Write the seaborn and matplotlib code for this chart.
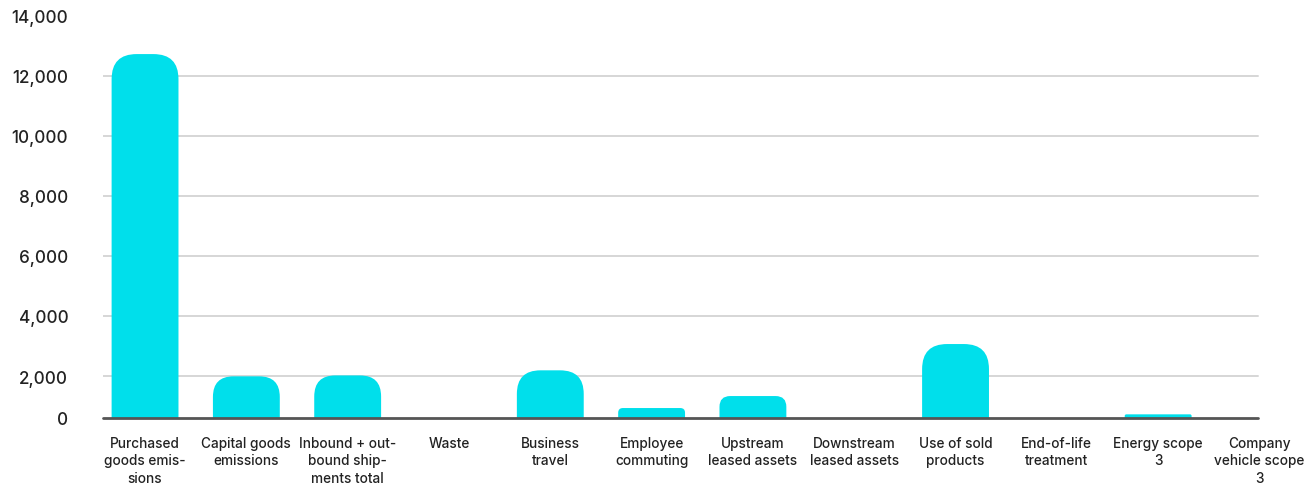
import matplotlib
matplotlib.use("Agg")
import matplotlib.pyplot as plt
import seaborn as sns
import pandas as pd
from matplotlib.patches import FancyBboxPatch

categories = [
    "Purchased\ngoods emis-\nsions", "Capital goods\nemissions",
    "Inbound + out-\nbound ship-\nments total", "Waste", "Business\ntravel",
    "Employee\ncommuting", "Upstream\nleased assets", "Downstream\nleased assets",
    "Use of sold\nproducts", "End-of-life\ntreatment", "Energy scope\n3",
    "Company\nvehicle scope\n3",
]
values = [12716, 1990, 2020, 0, 2190, 935, 1334, 0, 3065, 0, 725, 0]
ytick_values = [2000, 4000, 6000, 8000, 10000, 12000, 14000]
ytick_labels = ["2,000", "4,000", "6,000", "8,000", "10,000", "12,000", "14,000"]
y_floor = 620
zero_label = "0"

BAR = "#00DFEB"
TEXT = "#222222"

sns.set_theme(style="white")
plt.rcParams["font.family"] = ["Inter", "DejaVu Sans"]

df = pd.DataFrame({"category": categories, "value": values})

fig = plt.figure(figsize=(13.08, 4.85), dpi=100)
ax = fig.add_axes([103 / 1308, (485 - 418.5) / 485, (1300 - 103) / 1308, 402 / 485])

sns.barplot(data=df, x="category", y="value", order=categories, color=BAR,
            width=0.66, ax=ax, saturation=1)

ax.set_xlim(-0.415, 11.40)
ax.set_ylim(y_floor, 14000)

grid_end = (1258 - 103) / (1300 - 103)
for v in ytick_values:
    ax.axhline(v, xmin=0, xmax=grid_end, color="#d6d6d6", lw=1.4, zorder=0)
ax.axhline(y_floor, xmin=0, xmax=grid_end, color="#555555", lw=2.0, zorder=3,
           clip_on=False)

for s in ax.spines.values():
    s.set_visible(False)

fig.canvas.draw()
inv = ax.transData.inverted()
p0 = inv.transform((0, 0))
p1 = inv.transform((1, 1))
xpp = p1[0] - p0[0]
ypp = p1[1] - p0[1]
aspect = ypp / xpp
patches = list(ax.patches)
for p in patches:
    x, w, h = p.get_x(), p.get_width(), p.get_height()
    p.remove()
    vis_px = (h - y_floor) / ypp
    if vis_px <= 0:
        continue
    r_px = min(25.0, vis_px / 2.0)
    bottom = y_floor - 3000
    fb = FancyBboxPatch((x, bottom), w, h - bottom,
                        boxstyle=f"round,pad=0,rounding_size={r_px * xpp}",
                        mutation_aspect=aspect, facecolor=BAR, edgecolor="none",
                        zorder=2)
    ax.add_patch(fb)

ax.set_yticks([y_floor] + ytick_values)
ax.set_yticklabels([zero_label] + ytick_labels, fontsize=12.3, color=TEXT,
                   fontweight="medium")
ax.tick_params(axis="y", length=0, pad=25)
ax.tick_params(axis="x", length=0, pad=13)
for lab in ax.get_xticklabels():
    lab.set_fontsize(9.8)
    lab.set_color(TEXT)
    lab.set_fontweight("medium")
    lab.set_linespacing(1.35)
    lab.set_va("top")
ax.set_xlabel("")
ax.set_ylabel("")

fig.savefig("out.png", dpi=100)
